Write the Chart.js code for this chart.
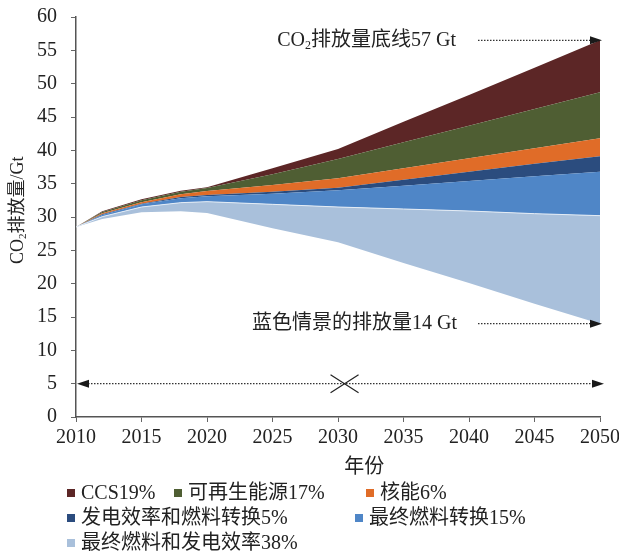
<!DOCTYPE html>
<html>
<head>
<meta charset="utf-8">
<script src="https://cdn.jsdelivr.net/npm/chart.js@4"></script>
<style>
  html, body { margin: 0; padding: 0; background: #fff; }
  #wrap { position: relative; width: 619px; height: 552px; }
  #legend { position: absolute; left: 0; top: 0; width: 619px; height: 552px; pointer-events: none;
            font-family: "Liberation Serif", "Noto Sans CJK SC", serif; font-size: 20px; color: #222; }
  .item { position: absolute; white-space: nowrap; line-height: 20px; }
  .box { display: inline-block; width: 8px; height: 8px; margin-right: 6px; vertical-align: 2px; }
</style>
</head>
<body>
<div id="wrap">
  <canvas id="co2Chart" width="619" height="552"></canvas>
  <div id="legend"></div>
</div>
<script>
// years and stacked boundary levels (Gt CO2)
const years = [2010, 2012, 2015, 2018, 2020, 2025, 2030, 2035, 2040, 2045, 2050];
const blueScenario  = [28.5, 29.7, 30.7, 30.85, 30.6, 28.3, 26.2, 23.1, 20.1, 17.0, 14.0];
const topEndUseEff  = [28.5, 30.05, 31.5, 32.15, 32.3, 31.9, 31.5, 31.2, 30.9, 30.5, 30.2];
const topEndUseFuel = [28.5, 30.3, 31.9, 32.8, 33.1, 33.5, 34.0, 34.7, 35.4, 36.1, 36.8];
const topPowerEff   = [28.5, 30.4, 32.0, 33.0, 33.3, 33.8, 34.4, 35.6, 36.8, 38.0, 39.1];
const topNuclear    = [28.5, 30.55, 32.2, 33.4, 33.9, 34.8, 35.8, 37.3, 38.8, 40.3, 41.8];
const topRenewables = [28.5, 30.75, 32.5, 33.8, 34.35, 36.4, 38.7, 41.2, 43.7, 46.2, 48.7];
const baseline      = [28.5, 30.85, 32.65, 33.95, 34.45, 37.3, 40.2, 44.3, 48.3, 52.4, 56.5];

const wedgeLabels = ['最终燃料和发电效率38%', '最终燃料转换15%', '发电效率和燃料转换5%',
                     '核能6%', '可再生能源17%', 'CCS19%'];
const wedgeColors = ['#a9c0db', '#4f86c7', '#2b4c7e', '#e06c28', '#4f5e33', '#5c2626'];
const yTicks = [0, 5, 10, 15, 20, 25, 30, 35, 40, 45, 50, 55, 60];
const xTicks = [2010, 2015, 2020, 2025, 2030, 2035, 2040, 2045, 2050];

const FONT = '"Liberation Serif", "Noto Sans CJK SC", serif';

function pts(values) {
    return years.map((y, i) => ({ x: y, y: values[i] }));
}

const levels = [topEndUseEff, topEndUseFuel, topPowerEff, topNuclear, topRenewables, baseline];

const datasets = [{
    label: 'base',
    data: pts(blueScenario),
    borderWidth: 0,
    borderColor: 'rgba(0,0,0,0)',
    pointRadius: 0,
    fill: false
}];
levels.forEach((lv, i) => {
    datasets.push({
        label: wedgeLabels[i],
        data: pts(lv),
        backgroundColor: wedgeColors[i],
        borderColor: i === 0 ? '#e4ecf5' : wedgeColors[i],
        borderWidth: i === 0 ? 1 : 0,
        pointRadius: 0,
        tension: 0,
        fill: '-1'
    });
});

function dotted(ctx, x1, y, x2) {
    ctx.save();
    ctx.strokeStyle = '#333';
    ctx.lineWidth = 1.2;
    ctx.setLineDash([1.5, 1.5]);
    ctx.beginPath();
    ctx.moveTo(x1, y);
    ctx.lineTo(x2, y);
    ctx.stroke();
    ctx.restore();
}

function head(ctx, tipX, y, dir) {
    ctx.save();
    ctx.fillStyle = '#1a1a1a';
    ctx.beginPath();
    ctx.moveTo(tipX, y);
    ctx.lineTo(tipX - dir * 12, y - 4);
    ctx.lineTo(tipX - dir * 12, y + 4);
    ctx.closePath();
    ctx.fill();
    ctx.restore();
}

// text like "CO2..." with a small subscript 2, drawn left to right from x
function co2Text(ctx, x, y, rest, size) {
    ctx.font = size + 'px ' + FONT;
    ctx.textBaseline = 'middle';
    ctx.textAlign = 'left';
    ctx.fillText('CO', x, y);
    let w = ctx.measureText('CO').width;
    ctx.font = Math.round(size * 0.6) + 'px ' + FONT;
    ctx.fillText('2', x + w, y + size * 0.3);
    w += ctx.measureText('2').width;
    ctx.font = size + 'px ' + FONT;
    ctx.fillText(rest, x + w, y);
    return w + ctx.measureText(rest).width;
}

const notes = {
    id: 'notes',
    afterDatasetsDraw(chart) {
        const ctx = chart.ctx;
        const xs = chart.scales.x, ys = chart.scales.y;
        const xEnd = xs.getPixelForValue(2050) + 2;
        ctx.save();
        ctx.fillStyle = '#222';

        // baseline arrow
        const yTop = ys.getPixelForValue(baseline[baseline.length - 1]);
        dotted(ctx, xEnd - 124, yTop, xEnd - 8);
        head(ctx, xEnd, yTop, 1);
        const rest = '排放量底线57 Gt';
        ctx.font = '20px ' + FONT;
        const wTop = ctx.measureText('CO').width + ctx.measureText(rest).width + 7;
        co2Text(ctx, xEnd - 145 - wTop, yTop, rest, 20);

        // blue scenario arrow
        const yLow = ys.getPixelForValue(blueScenario[blueScenario.length - 1]);
        dotted(ctx, xEnd - 124, yLow, xEnd - 8);
        head(ctx, xEnd, yLow, 1);
        ctx.font = '20px ' + FONT;
        ctx.textAlign = 'right';
        ctx.textBaseline = 'middle';
        ctx.fillText('蓝色情景的排放量14 Gt', xEnd - 145, yLow);

        // double arrow at 5 Gt with a cross
        const y5 = ys.getPixelForValue(5);
        const xL = xs.getPixelForValue(2010) + 1;
        dotted(ctx, xL + 8, y5, xEnd - 4);
        head(ctx, xL, y5, -1);
        head(ctx, xEnd + 2, y5, 1);
        const cx = xs.getPixelForValue(2030.5);
        ctx.strokeStyle = '#222';
        ctx.lineWidth = 1.2;
        ctx.beginPath();
        ctx.moveTo(cx - 14, y5 - 9); ctx.lineTo(cx + 14, y5 + 9);
        ctx.moveTo(cx - 14, y5 + 9); ctx.lineTo(cx + 14, y5 - 9);
        ctx.stroke();

        // axis titles
        ctx.fillStyle = '#222';
        ctx.font = '20px ' + FONT;
        ctx.textAlign = 'center';
        ctx.textBaseline = 'middle';
        ctx.fillText('年份', xs.getPixelForValue(2032), 468);

        ctx.save();
        ctx.translate(18, 210);
        ctx.rotate(-Math.PI / 2);
        ctx.font = '18px ' + FONT;
        const wT = ctx.measureText('CO').width + ctx.measureText('排放量/Gt').width + 6;
        co2Text(ctx, -wT / 2, 0, '排放量/Gt', 18);
        ctx.restore();

        ctx.restore();
    }
};

const ctx = document.getElementById('co2Chart').getContext('2d');
const chart = new Chart(ctx, {
    type: 'line',
    data: { datasets: datasets },
    options: {
        responsive: false,
        animation: false,
        layout: { padding: { top: 17, bottom: 95, left: 0, right: 0 } },
        plugins: {
            legend: { display: false },
            tooltip: { enabled: false }
        },
        scales: {
            x: {
                type: 'linear',
                min: 2010,
                max: 2050,
                afterBuildTicks: s => { s.ticks = xTicks.map(v => ({ value: v })); },
                afterFit: s => { s.height = 40; s.paddingRight = 19; },
                ticks: {
                    callback: v => String(v),
                    color: '#222',
                    padding: 4,
                    maxRotation: 0,
                    font: { family: FONT, size: 20 }
                },
                grid: { drawOnChartArea: false, drawTicks: true, tickLength: 5, color: '#666' },
                border: { color: '#555', width: 1.5 }
            },
            y: {
                min: 0,
                max: 60,
                afterBuildTicks: s => { s.ticks = yTicks.map(v => ({ value: v })); },
                afterFit: s => { s.width = 76; s.paddingTop = 0; s.paddingBottom = 0; },
                ticks: {
                    color: '#222',
                    padding: 14,
                    font: { family: FONT, size: 20 }
                },
                grid: { drawOnChartArea: false, drawTicks: true, tickLength: 5, color: '#666' },
                border: { color: '#555', width: 1.5 }
            }
        }
    },
    plugins: [notes]
});

// legend laid out like the source: three rows, top wedge first
const legendSlots = [[67, 492], [174, 492], [366, 492], [67, 517], [355, 517], [67, 542]];
const legendEl = document.getElementById('legend');
for (let k = 0; k < wedgeLabels.length; k++) {
    const i = wedgeLabels.length - 1 - k;
    const div = document.createElement('div');
    div.className = 'item';
    div.style.left = legendSlots[k][0] + 'px';
    div.style.top = (legendSlots[k][1] - 10) + 'px';
    div.innerHTML = '<span class="box" style="background:' + wedgeColors[i] + '"></span>' + wedgeLabels[i];
    legendEl.appendChild(div);
}
</script>
</body>
</html>
